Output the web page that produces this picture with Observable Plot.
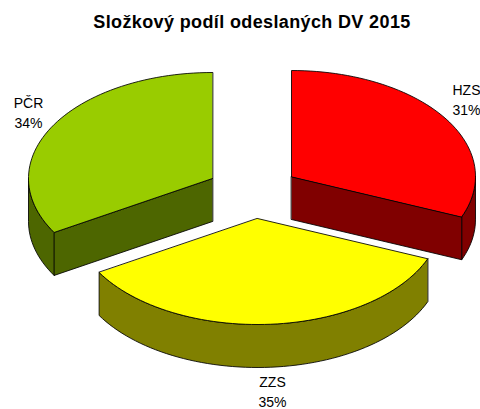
<!DOCTYPE html>
<html>
<head>
<meta charset="utf-8">
<script src="https://cdn.jsdelivr.net/npm/d3@7"></script>
<script src="https://cdn.jsdelivr.net/npm/@observablehq/plot@0.6"></script>
<style>
html,body{margin:0;padding:0;background:#fff;}
#title{height:44px;width:504px;text-align:center;font:bold 18px "Liberation Sans",Arial,sans-serif;color:#000;line-height:44px;letter-spacing:.37px;white-space:nowrap;}
#chart svg{display:block;}
</style>
</head>
<body>
<div id="title">Složkový podíl odeslaných DV 2015</div>
<div id="chart"></div>
<script>
// Data, clockwise from twelve o'clock
const categories = ["HZS", "ZZS", "PČR"];
const shares = [31.2, 35.3, 33.5];
const topColors = ["#ff0000", "#ffff00", "#99cc00"];
const sideColors = ["#800000", "#808000", "#4d6600"];

// Pie geometry, in the units of the x and y scales
const RX = 184, RY = 106, DEPTH = 43;
const apexes = [[291, 176], [257, 218], [212, 178]];
const labelAnchors = [[466, 98], [272, 390.5], [28, 111]];

const total = d3.sum(shares);
const polys = [];
const labels = [];
let cumulative = 0;
shares.forEach((share, i) => {
  const a0 = cumulative / total * 2 * Math.PI;
  cumulative += share;
  const a1 = cumulative / total * 2 * Math.PI;
  const [cx, cy] = apexes[i];
  const pt = (a, dz = 0) => ({x: cx + RX * Math.sin(a), y: cy - RY * Math.cos(a) + dz});
  const arc = (from, to) => {
    const n = Math.max(2, Math.ceil(Math.abs(to - from) / (Math.PI / 90)));
    return d3.range(n + 1).map(k => from + (to - from) * k / n);
  };
  const add = (id, fill, pts) => pts.forEach(p => polys.push({...p, id: `${categories[i]}-${id}`, fill}));
  const apex = (dz = 0) => ({x: cx, y: cy + dz});

  // visible part of the outer wall: lower half of the ellipse only
  const from = Math.max(a0, Math.PI / 2), to = Math.min(a1, 3 * Math.PI / 2);
  add("outer", sideColors[i], [
    ...arc(from, to).map(a => pt(a)),
    ...arc(to, from).map(a => pt(a, DEPTH))
  ]);
  // cut faces that look to the viewer
  if (i === 0) add("cut", sideColors[i], [apex(), pt(a1), pt(a1, DEPTH), apex(DEPTH)]);
  if (i === 2) add("cut", sideColors[i], [apex(), pt(a0), pt(a0, DEPTH), apex(DEPTH)]);
  // top face
  add("top", topColors[i], [apex(), ...arc(a0, a1).map(a => pt(a))]);

  labels.push({
    x: labelAnchors[i][0], y: labelAnchors[i][1],
    text: `${categories[i]}\n${Math.round(share)}%`
  });
});

const plot = Plot.plot({
  width: 480,
  height: 365,
  margin: 0,
  x: {domain: [0, 480], range: [0, 480], axis: null},
  y: {domain: [44, 409], range: [0, 365], axis: null},
  marks: [
    Plot.line(polys, {
      x: "x", y: "y", z: "id",
      fill: "fill",
      stroke: "#000",
      strokeWidth: 1,
      strokeOpacity: 0.85,
      curve: "linear-closed"
    }),
    Plot.text(labels, {
      x: "x", y: "y", text: "text",
      fontSize: 14,
      lineHeight: 1.4,
      fill: "#000",
      fontFamily: "'Liberation Sans',Arial,sans-serif"
    })
  ]
});
document.getElementById("chart").appendChild(plot);
</script>
</body>
</html>
